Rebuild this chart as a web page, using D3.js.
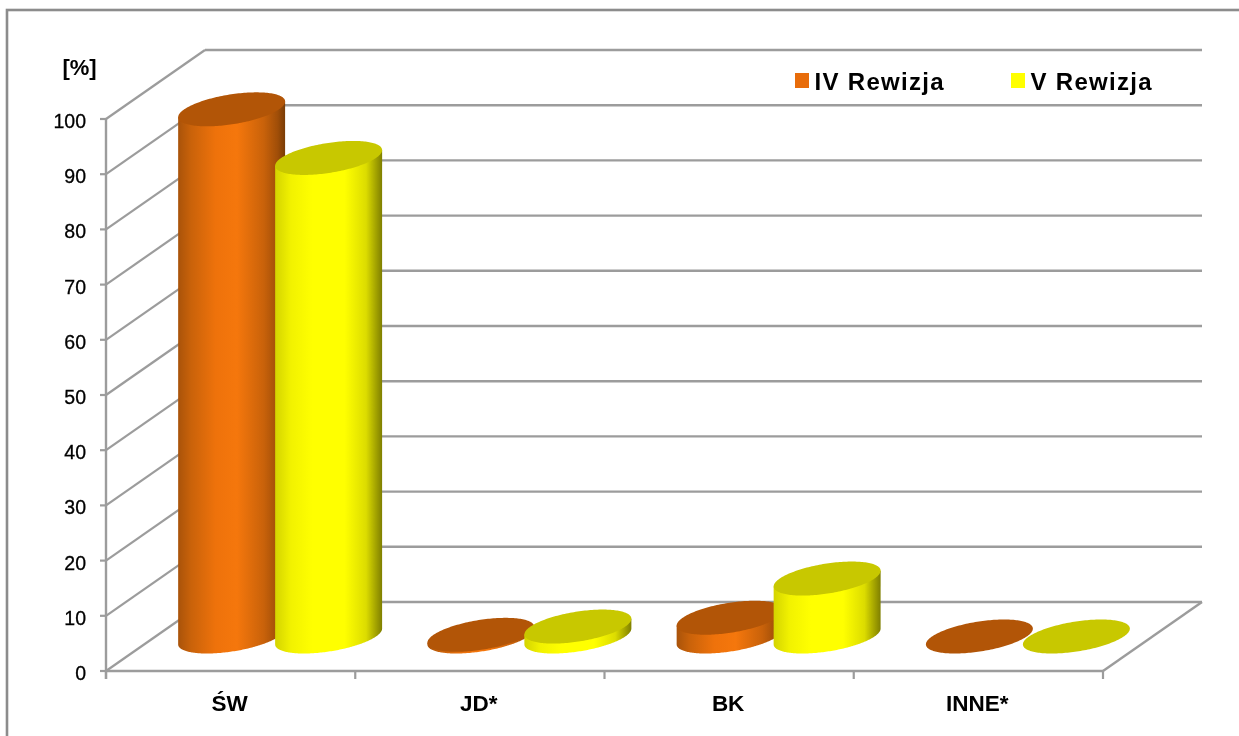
<!DOCTYPE html>
<html><head><meta charset="utf-8"><script src="https://cdn.jsdelivr.net/npm/d3@7"></script>
<style>html,body{margin:0;padding:0;background:#fff;overflow:hidden}svg{display:block;filter:blur(0.4px)}text{font-family:"Liberation Sans",Arial,sans-serif;fill:#000}</style></head>
<body><script>
const categories=["ŚW","JD*","BK","INNE*"];
const seriesNames=["IV Rewizja","V Rewizja"];
const ivRewizja=[95.5,0.3,3.4,0];
const vRewizja=[86.7,1.8,10.5,0];
const yTicks=[0,10,20,30,40,50,60,70,80,90,100];
const W=1239,H=736;
const svg=d3.select("body").append("svg").attr("width",W).attr("height",H);
const defs=svg.append("defs");
function grad(id,stops){const g=defs.append("linearGradient").attr("id",id);
 stops.forEach(s=>g.append("stop").attr("offset",s[0]).attr("stop-color",s[1]));}
grad("gO",[[0,"#a9530a"],[.12,"#c9620a"],[.35,"#ee720b"],[.55,"#f5770c"],[.8,"#c9620a"],[.93,"#a04e08"],[1,"#7a3c05"]]);
grad("gY",[[0,"#d4d400"],[.15,"#f2f200"],[.35,"#ffff00"],[.65,"#ffff00"],[.85,"#dcdc00"],[1,"#7f7f00"]]);
const grid="#9c9c9c";
svg.append("rect").attr("x",7).attr("y",10).attr("width",1240).attr("height",740).attr("fill","#fff").attr("stroke","#8c8c8c").attr("stroke-width",2.6);
const x=d3.scaleBand().domain(categories).range([106,1103]);
const y=d3.scaleLinear().domain([0,100]).range([671,119]);
const depth={dx:99,dy:-69};
const inner=d3.scaleBand().domain(seriesNames).range([0,x.bandwidth()]);
const g=svg.append("g");
yTicks.forEach(t=>{
 g.append("line").attr("x1",106).attr("x2",106+depth.dx).attr("y1",y(t)).attr("y2",y(t)+depth.dy).attr("stroke",grid).attr("stroke-width",2.2);
 g.append("line").attr("x1",106+depth.dx).attr("x2",1103+depth.dx).attr("y1",y(t)+depth.dy).attr("y2",y(t)+depth.dy).attr("stroke",grid).attr("stroke-width",2.4);
 g.append("line").attr("x1",100).attr("x2",106).attr("y1",y(t)).attr("y2",y(t)).attr("stroke",grid).attr("stroke-width",2.2);
 g.append("text").attr("x",86).attr("y",y(t)+9).attr("text-anchor","end").attr("font-size",19.5).attr("stroke","#000").attr("stroke-width",.3).text(t);
});
g.append("line").attr("x1",106).attr("x2",106).attr("y1",y(100)).attr("y2",679).attr("stroke",grid).attr("stroke-width",2.4);
g.append("line").attr("x1",105).attr("x2",1104).attr("y1",y(0)).attr("y2",y(0)).attr("stroke",grid).attr("stroke-width",2.6);
g.append("line").attr("x1",1103).attr("x2",1103+depth.dx).attr("y1",y(0)).attr("y2",y(0)+depth.dy).attr("stroke",grid).attr("stroke-width",2.4);
[...categories.map(c=>x(c)),1103].forEach(v=>g.append("line").attr("x1",v).attr("x2",v).attr("y1",y(0)).attr("y2",679).attr("stroke",grid).attr("stroke-width",2.2));
categories.forEach(c=>g.append("text").attr("x",x(c)+x.bandwidth()/2-1).attr("y",711).attr("text-anchor","middle").attr("font-size",22.5).attr("font-weight","bold").text(c));
g.append("text").attr("x",79.5).attr("y",75).attr("text-anchor","middle").attr("font-size",22).attr("font-weight","bold").text("[%]");
const rx=47.4, skew=24.75, rd=17;
const seriesList=[{name:seriesNames[0],vals:ivRewizja,body:"url(#gO)",top:"#b25507",off:-48.5},{name:seriesNames[1],vals:vRewizja,body:"url(#gY)",top:"#c8c800",off:48.5}];
const baseY=(y(0)+y(0)+depth.dy)/2;
const pt=(cx,cy,t)=>[cx+rx*Math.cos(t)+skew*Math.sin(t),cy-rd*Math.sin(t)];
const tR=Math.atan2(skew,rx);
const line=d3.line();
categories.forEach((c,i)=>{
 const mid=x(c)+x.bandwidth()/2+depth.dx/2;
 seriesList.forEach(s=>{
  const cx=mid+s.off, v=s.vals[i], h=y(0)-y(v), topY=baseY-h;
  const lower=d3.range(0,121).map(k=>tR+Math.PI+Math.PI*k/120).map(t=>pt(cx,baseY,t));
  const a=pt(cx,topY,tR+Math.PI), b=pt(cx,topY,tR);
  if(h>0) g.append("path").attr("d",line([a,...lower,b])+"Z").attr("fill",s.body);
  const all=d3.range(0,181).map(k=>k*2*Math.PI/180).map(t=>pt(cx,topY,t));
  g.append("path").attr("d",line(all)+"Z").attr("fill",s.top);
 });
});
const lg=svg.append("g");
[{x:795,c:"#e86c0a",n:seriesNames[0]},{x:1011,c:"#ffff00",n:seriesNames[1]}].forEach(d=>{
 lg.append("rect").attr("x",d.x).attr("y",73).attr("width",14).attr("height",15).attr("fill",d.c);
 lg.append("text").attr("x",d.x+19.5).attr("y",90).attr("font-size",24).attr("font-weight","bold").attr("letter-spacing",1.3).text(d.n);
});
</script></body></html>
